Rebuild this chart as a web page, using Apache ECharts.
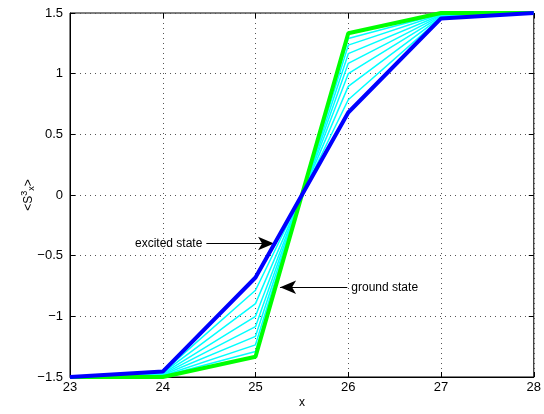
<!DOCTYPE html>
<html>
<head>
<meta charset="utf-8">
<script src="https://cdn.jsdelivr.net/npm/echarts@6/dist/echarts.min.js"></script>
<style>
html,body{margin:0;padding:0;background:#fff;}
#chart{width:544px;height:414px;}
</style>
</head>
<body>
<div id="chart"></div>
<script>
const xValues = [23, 24, 25, 26, 27, 28];
const xTicks = [23, 24, 25, 26, 27, 28];
const yTicks = [-1.5, -1, -0.5, 0, 0.5, 1, 1.5];
const groundState = [-1.5, -1.5, -1.333, 1.333, 1.5, 1.5];
const excitedState = [-1.5, -1.455, -0.68, 0.68, 1.455, 1.5];
const mid1 = [-1.5, -1.46, -0.785, 0.785, 1.46, 1.5];
const mid2 = [-1.5, -1.466, -0.895, 0.895, 1.466, 1.5];
const mid3 = [-1.5, -1.472, -1.0, 1.0, 1.472, 1.5];
const mid4 = [-1.5, -1.478, -1.085, 1.085, 1.478, 1.5];
const mid5 = [-1.5, -1.484, -1.165, 1.165, 1.484, 1.5];
const mid6 = [-1.5, -1.489, -1.235, 1.235, 1.489, 1.5];
const mid7 = [-1.5, -1.494, -1.29, 1.29, 1.494, 1.5];
const intermediates = [mid1, mid2, mid3, mid4, mid5, mid6, mid7];
const excitedLabel = 'excited state';
const groundLabel = 'ground state';
const excitedArrow = [[24.47, -0.40], [25.2, -0.40]];
const groundArrow = [[25.99, -0.76], [25.265, -0.76]];

const pairs = arr => xValues.map((x, i) => [x, arr[i]]);
const fmt = v => String(v).replace('-', '\u2212');

const chart = echarts.init(document.getElementById('chart'), null, {renderer: 'canvas'});

const splitStyle = {show: true, lineStyle: {color: '#555', type: [1, 4], width: 1}};
const baseFont = 'Liberation Sans, Arial, Helvetica, sans-serif';

const series = [];
intermediates.forEach(arr => {
  series.push({
    type: 'line', data: pairs(arr), symbol: 'none', clip: false,
    lineStyle: {color: '#00ffff', width: 1.5}, z: 3, silent: true
  });
});
series.push({
  type: 'line', data: pairs(groundState), symbol: 'none', clip: false,
  lineStyle: {color: '#00ff00', width: 4}, z: 4, silent: true
});
series.push({
  type: 'line', data: pairs(excitedState), symbol: 'none', clip: false,
  lineStyle: {color: '#0000ff', width: 4}, z: 5, silent: true
});
const arrowLabel = (text) => ({
  show: true, position: 'start', formatter: text, color: '#000',
  fontSize: 12, fontFamily: baseFont, distance: 4
});
series.push({
  type: 'line', data: [], symbol: 'none', z: 6,
  markLine: {
    silent: true, animation: false,
    symbol: ['none', 'arrow'], symbolSize: [10, 16],
    lineStyle: {color: '#000', width: 1, type: 'solid'},
    data: [
      [{coord: excitedArrow[0], label: arrowLabel(excitedLabel)}, {coord: excitedArrow[1]}],
      [{coord: groundArrow[0], label: arrowLabel(groundLabel)}, {coord: groundArrow[1]}]
    ]
  }
});

chart.setOption({
  animation: false,
  backgroundColor: '#fff',
  grid: {left: 70, right: 6, top: 13, bottom: 34, show: true, borderColor: '#000', borderWidth: 1, containLabel: false},
  xAxis: [{
    type: 'value', min: xTicks[0], max: xTicks[xTicks.length - 1], interval: 1,
    name: 'x', nameLocation: 'middle', nameGap: 20, nameMoveOverlap: false,
    nameTextStyle: {color: '#000', fontSize: 12, fontFamily: baseFont},
    axisLine: {show: true, onZero: false, lineStyle: {color: '#000', width: 1}},
    axisTick: {show: true, inside: true, length: 5, lineStyle: {color: '#000'}},
    axisLabel: {color: '#000', fontSize: 13, fontFamily: baseFont, margin: 4, showMaxLabel: true},
    splitLine: splitStyle
  }, {
    type: 'value', position: 'top', min: xTicks[0], max: xTicks[xTicks.length - 1], interval: 1,
    axisLine: {show: false, onZero: false}, axisLabel: {show: false}, splitLine: {show: false},
    axisTick: {show: true, inside: true, length: 5, lineStyle: {color: '#000'}}
  }],
  yAxis: [{
    type: 'value', min: yTicks[0], max: yTicks[yTicks.length - 1], interval: 0.5,
    name: '{a|<S}{sup|3}{sub|x}{a|>}', nameLocation: 'middle', nameGap: 33, nameRotate: 90,
    nameMoveOverlap: false,
    nameTextStyle: {
      color: '#000', fontFamily: baseFont,
      rich: {
        a: {fontSize: 12, fontFamily: baseFont, color: '#000'},
        sup: {fontSize: 9, fontFamily: baseFont, color: '#000', padding: [0, 0, 8, 0]},
        sub: {fontSize: 9, fontFamily: baseFont, color: '#000', padding: [6, 0, 0, 0]}
      }
    },
    axisLine: {show: true, onZero: false, lineStyle: {color: '#000', width: 1}},
    axisTick: {show: true, inside: true, length: 5, lineStyle: {color: '#000'}},
    axisLabel: {color: '#000', fontSize: 13, fontFamily: baseFont, margin: 7, formatter: fmt},
    splitLine: splitStyle
  }, {
    type: 'value', position: 'right', min: yTicks[0], max: yTicks[yTicks.length - 1], interval: 0.5,
    axisLine: {show: false, onZero: false}, axisLabel: {show: false}, splitLine: {show: false},
    axisTick: {show: true, inside: true, length: 5, lineStyle: {color: '#000'}}
  }],
  series: series
});
</script>
</body>
</html>
